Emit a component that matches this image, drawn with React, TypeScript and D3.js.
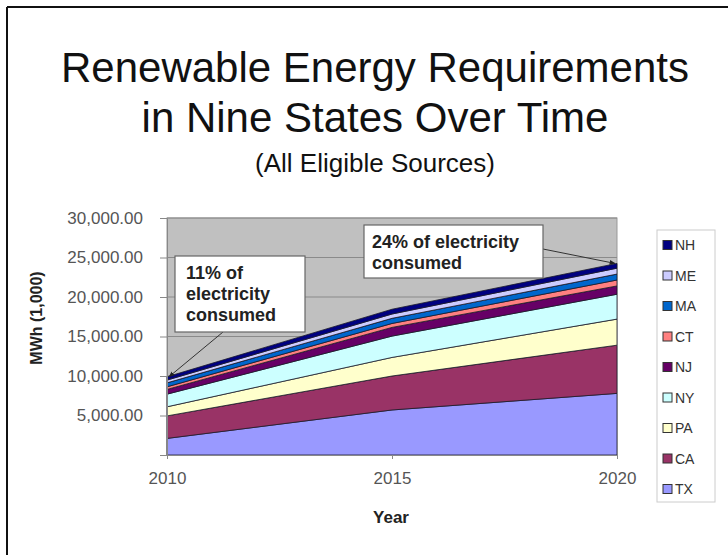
import * as d3 from "d3";
import { useEffect, useRef } from "react";

const years = [2010, 2015, 2020];
const states = ["TX", "CA", "PA", "NY", "NJ", "CT", "MA", "ME", "NH"];
const colors = ["#9999FF", "#993366", "#FFFFCC", "#CCFFFF", "#660066", "#FF8080", "#0066CC", "#CCCCFF", "#000080"];

const tx = [2100, 5700, 7800];
const ca = [2850, 4300, 6100];
const pa = [1150, 2350, 3300];
const ny = [1600, 2700, 3150];
const nj = [600, 1100, 1050];
const ct = [330, 500, 750];
const ma = [500, 650, 750];
const me = [350, 550, 750];
const nh = [420, 600, 600];

const yTicks = [5000, 10000, 15000, 20000, 25000, 30000];

export default function App() {
  const svgRef = useRef<SVGSVGElement>(null);

  useEffect(() => {
    if (!svgRef.current) return;
    const root = d3.select(svgRef.current);
    root.selectAll("*").remove();

    const font = "'Liberation Sans', Arial, sans-serif";
    const series = [tx, ca, pa, ny, nj, ct, ma, me, nh];
    const rows = years.map((yr, i) => {
      const row: any = { year: yr };
      states.forEach((s, k) => (row[s] = series[k][i]));
      return row;
    });

    // Frame (left + top black rule)
    root.append("rect").attr("width", 728).attr("height", 555).attr("fill", "#fff");
    root.append("line").attr("x1", 7).attr("x2", 728).attr("y1", 7).attr("y2", 7).attr("stroke", "#111").attr("stroke-width", 2);
    root.append("line").attr("x1", 7).attr("x2", 7).attr("y1", 7).attr("y2", 555).attr("stroke", "#111").attr("stroke-width", 2);

    // Titles
    const titles = [
      { t: "Renewable Energy Requirements", y: 82, s: 42 },
      { t: "in Nine States Over Time", y: 132, s: 42 },
      { t: "(All Eligible Sources)", y: 172, s: 26 },
    ];
    titles.forEach((d) =>
      root
        .append("text")
        .attr("x", 375)
        .attr("y", d.y)
        .attr("text-anchor", "middle")
        .style("font-family", font)
        .style("font-size", d.s + "px")
        .style("fill", "#111")
        .text(d.t),
    );

    const left = 167, right = 617, top = 218, bottom = 455;
    const x = d3.scaleLinear().domain([2010, 2020]).range([left, right]);
    const y = d3.scaleLinear().domain([0, 30000]).range([bottom, top]);

    // Plot area
    root
      .append("rect")
      .attr("x", left)
      .attr("y", top)
      .attr("width", right - left)
      .attr("height", bottom - top)
      .attr("fill", "#C0C0C0")
      .attr("stroke", "#999");

    // Gridlines
    root
      .append("g")
      .selectAll("line")
      .data(yTicks)
      .enter()
      .append("line")
      .attr("x1", left)
      .attr("x2", right)
      .attr("y1", (d) => y(d))
      .attr("y2", (d) => y(d))
      .attr("stroke", "#8a8a8a")
      .attr("stroke-width", 1);

    // Stacked areas
    const stack = d3.stack<any>().keys(states);
    const layers = stack(rows);
    const area = d3
      .area<any>()
      .x((d) => x(d.data.year))
      .y0((d) => y(d[0]))
      .y1((d) => y(d[1]));

    root
      .append("g")
      .selectAll("path")
      .data(layers)
      .enter()
      .append("path")
      .attr("d", area)
      .attr("fill", (_, i) => colors[i])
      .attr("stroke", "#1a1a2a")
      .attr("stroke-width", 0.8);

    // Y axis
    const yAxis = root
      .append("g")
      .attr("transform", `translate(${left},0)`)
      .call(
        d3
          .axisLeft(y)
          .tickValues([0, ...yTicks])
          .tickSize(7)
          .tickPadding(17)
          .tickFormat((d) => (+d === 0 ? "" : d3.format(",.2f")(+d))),
      );
    yAxis.select(".domain").attr("stroke", "#888");
    yAxis.selectAll(".tick line").attr("stroke", "#888");
    yAxis
      .selectAll(".tick text")
      .style("font-family", font)
      .style("font-size", "17px")
      .style("fill", "#555");

    // X axis
    const xAxis = root
      .append("g")
      .attr("transform", `translate(0,${bottom})`)
      .call(d3.axisBottom(x).tickValues(years).tickSize(4).tickPadding(13).tickFormat(d3.format("d")));
    xAxis.select(".domain").attr("stroke", "#888");
    xAxis.selectAll(".tick line").attr("stroke", "#888");
    xAxis
      .selectAll(".tick text")
      .style("font-family", font)
      .style("font-size", "17px")
      .style("fill", "#555");

    // Axis titles
    root
      .append("text")
      .attr("x", 391)
      .attr("y", 523)
      .attr("text-anchor", "middle")
      .style("font-family", font)
      .style("font-size", "17px")
      .style("font-weight", "bold")
      .style("fill", "#222")
      .text("Year");
    root
      .append("text")
      .attr("transform", "translate(42,318) rotate(-90)")
      .attr("text-anchor", "middle")
      .style("font-family", font)
      .style("font-size", "16px")
      .style("font-weight", "bold")
      .style("fill", "#222")
      .text("MWh (1,000)");

    // Legend
    const lg = root.append("g");
    lg.append("rect")
      .attr("x", 657)
      .attr("y", 230)
      .attr("width", 58)
      .attr("height", 272)
      .attr("fill", "#fff")
      .attr("stroke", "#ccc");
    const legendOrder = states.slice().reverse();
    const ly = d3.scalePoint().domain(legendOrder).range([245, 489]);
    legendOrder.forEach((s) => {
      const i = states.indexOf(s);
      lg.append("rect")
        .attr("x", 663)
        .attr("y", ly(s)! - 4.5)
        .attr("width", 9)
        .attr("height", 9)
        .attr("fill", colors[i])
        .attr("stroke", "#333");
      lg.append("text")
        .attr("x", 675)
        .attr("y", ly(s)!)
        .attr("dy", "0.36em")
        .style("font-family", font)
        .style("font-size", "14px")
        .style("fill", "#333")
        .text(s);
    });

    // Annotations
    const defs = root.append("defs");
    defs
      .append("marker")
      .attr("id", "arr")
      .attr("viewBox", "0 0 10 10")
      .attr("refX", 9)
      .attr("refY", 5)
      .attr("markerWidth", 6)
      .attr("markerHeight", 6)
      .attr("orient", "auto")
      .append("path")
      .attr("d", "M0,1 L10,5 L0,9 Z")
      .attr("fill", "#222");

    const total = (i: number) => d3.sum(series, (s) => s[i]);

    const notes = [
      { bx: 175, by: 256, bw: 130, bh: 76, tx: 186, ty: 279, lines: ["11% of", "electricity", "consumed"], from: [223, 332], i: 0 },
      { bx: 364, by: 225, bw: 179, bh: 53, tx: 372, ty: 248, lines: ["24% of electricity", "consumed"], from: [543, 249], i: 2 },
    ];
    notes.forEach((n) => {
      root
        .append("line")
        .attr("x1", n.from[0])
        .attr("y1", n.from[1])
        .attr("x2", x(years[n.i]) + (n.i === 0 ? 2 : -2))
        .attr("y2", y(total(n.i)))
        .attr("stroke", "#333")
        .attr("stroke-width", 1)
        .attr("marker-end", "url(#arr)");
      root
        .append("rect")
        .attr("x", n.bx)
        .attr("y", n.by)
        .attr("width", n.bw)
        .attr("height", n.bh)
        .attr("fill", "#fff")
        .attr("stroke", "#666")
        .attr("stroke-width", 1.2);
      n.lines.forEach((t, k) =>
        root
          .append("text")
          .attr("x", n.tx)
          .attr("y", n.ty + k * 21)
          .style("font-family", font)
          .style("font-size", "18px")
          .style("font-weight", "bold")
          .style("fill", "#222")
          .text(t),
      );
    });
  }, []);

  return (
    <svg
      ref={svgRef}
      width={728}
      height={555}
      style={{ position: "absolute", left: 0, top: 0, background: "#fff" }}
    />
  );
}
